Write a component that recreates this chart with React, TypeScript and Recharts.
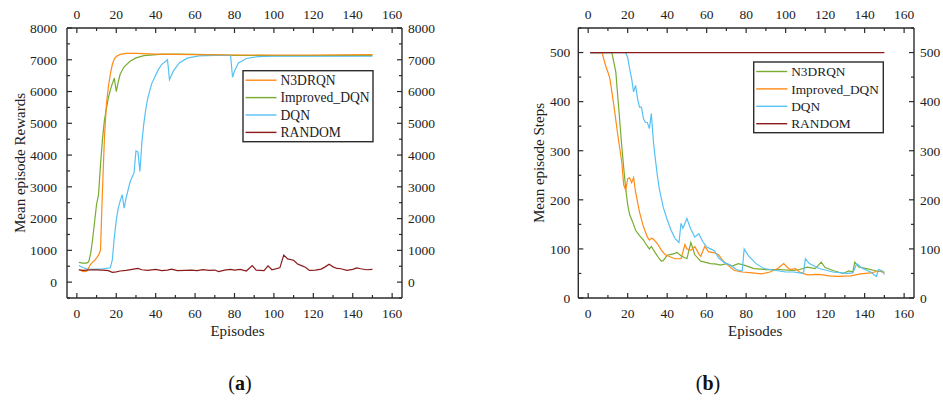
import React from 'react';
import { LineChart, Line, XAxis, YAxis } from 'recharts';

const SERIF = '"Liberation Serif", "Times New Roman", serif';
const AXIS = '#2b2b2b';

// (a) mean episode rewards
const rewN3Ep = [1, 2, 3, 4, 5, 6, 7, 8, 9, 10, 11, 12, 13, 14, 15, 16, 17, 18, 19, 20, 22, 25, 30, 40, 60, 80, 100, 120, 150];
const rewN3Val = [390, 370, 340, 330, 340, 450, 560, 630, 680, 760, 850, 1000, 2900, 4550, 5600, 6150, 6550, 6850, 7020, 7100, 7170, 7200, 7200, 7180, 7160, 7150, 7150, 7150, 7160];
const rewImpEp = [1, 3, 5, 6, 7, 8, 9, 10, 11, 12, 13, 14, 15, 16, 17, 18, 19, 20, 21, 22, 24, 27, 30, 34, 42, 50, 60, 80, 100, 120, 150];
const rewImpVal = [620, 600, 600, 640, 900, 1350, 1900, 2450, 2750, 3700, 4500, 5100, 5470, 5800, 6050, 6250, 6420, 6000, 6300, 6550, 6780, 6950, 7060, 7130, 7170, 7180, 7170, 7140, 7130, 7130, 7140];
const rewDqnEp = [1, 3, 5, 8, 10, 13, 15, 17, 18, 19, 20, 21, 22, 23, 24, 25, 26, 27, 28, 29, 30, 31, 32, 33, 34, 35, 36, 38, 41, 43, 46, 47, 49, 52, 56, 62, 70, 78, 79, 80, 82, 86, 92, 100, 150];
const rewDqnVal = [525, 460, 420, 400, 410, 420, 430, 450, 700, 1400, 1950, 2330, 2560, 2750, 2330, 2650, 2900, 3150, 3300, 3430, 4130, 4100, 3480, 4400, 5000, 5450, 5800, 6250, 6650, 6850, 7000, 6370, 6650, 6900, 7050, 7120, 7140, 7140, 6450, 6650, 6900, 7040, 7100, 7110, 7110];
const rewRndEp = [1, 3, 5, 8, 10, 13, 16, 18, 20, 22, 25, 28, 31, 33, 36, 40, 43, 46, 48, 51, 55, 58, 61, 64, 67, 70, 72, 75, 78, 80, 83, 86, 89, 91, 95, 97, 99, 103, 105, 107, 110, 112, 114, 116, 118, 121, 124, 126, 128, 130, 132, 134, 137, 140, 142, 144, 147, 150];
const rewRndVal = [390, 370, 380, 390, 385, 380, 360, 310, 320, 350, 370, 400, 430, 390, 370, 400, 360, 380, 410, 360, 370, 380, 360, 390, 370, 380, 330, 380, 400, 380, 400, 350, 520, 380, 360, 510, 390, 450, 850, 730, 690, 570, 520, 470, 370, 380, 410, 480, 560, 480, 430, 420, 370, 400, 450, 420, 390, 400];

// (b) mean episode steps
const stpN3Ep = [1, 12, 13, 14, 15, 16, 17, 18, 19, 20, 21, 22, 23, 24, 26, 28, 29, 31, 32, 34, 36, 37, 38, 40, 42, 44, 45, 47, 50, 52, 54, 57, 60, 62, 65, 67, 70, 73, 76, 79, 84, 90, 97, 104, 107, 111, 115, 118, 120, 124, 129, 132, 134, 135, 137, 141, 146, 150];
const stpN3Val = [500, 500, 480, 460, 410, 360, 310, 265, 223, 190, 170, 160, 150, 138, 127, 118, 111, 100, 105, 92, 80, 75, 76, 87, 89, 91, 93, 86, 80, 113, 88, 75, 72, 70, 69, 67, 70, 65, 70, 67, 60, 58, 58, 56, 58, 63, 60, 73, 62, 56, 50, 55, 53, 73, 63, 60, 55, 53];
const stpImpEp = [1, 7, 9, 10, 11, 12, 13, 15, 17, 18, 19, 20, 21, 22, 23, 24, 26, 28, 30, 31, 32, 33, 35, 37, 39, 42, 44, 47, 49, 50, 52, 54, 56, 57, 59, 61, 64, 66, 68, 71, 74, 78, 83, 88, 92, 96, 99, 102, 105, 107, 111, 117, 122, 126, 133, 138, 143, 147, 150];
const stpImpVal = [500, 500, 471, 460, 447, 420, 393, 332, 277, 230, 220, 243, 245, 235, 245, 216, 175, 145, 124, 118, 122, 120, 111, 98, 88, 83, 80, 80, 109, 100, 97, 105, 90, 85, 105, 94, 92, 88, 77, 66, 56, 53, 51, 49, 53, 60, 70, 58, 60, 53, 47, 48, 45, 44, 45, 49, 51, 55, 52];
const stpDqnEp = [1, 19, 20, 21, 22, 23, 24, 25, 26, 27, 28, 29, 30, 31, 32, 33, 34, 35, 36, 38, 40, 42, 44, 46, 47, 48, 50, 52, 54, 56, 58, 60, 62, 64, 66, 69, 72, 75, 78, 79, 81, 85, 89, 95, 100, 104, 109, 110, 112, 117, 124, 131, 134, 136, 139, 143, 146, 147, 149, 150];
const stpDqnVal = [500, 500, 490, 467, 447, 420, 433, 406, 389, 389, 365, 358, 357, 345, 376, 320, 284, 250, 223, 185, 160, 138, 121, 113, 152, 142, 162, 140, 124, 131, 115, 104, 100, 96, 82, 72, 67, 58, 55, 100, 87, 70, 60, 56, 53, 53, 50, 80, 70, 60, 53, 50, 51, 70, 60, 53, 44, 58, 55, 48];
const stpRndEp = [1, 150];
const stpRndVal = [500, 500];

const epTicks = [0, 10, 20, 30, 40, 50, 60, 70, 80, 90, 100, 110, 120, 130, 140, 150, 160];
const rewTicks = [-500, 0, 500, 1000, 1500, 2000, 2500, 3000, 3500, 4000, 4500, 5000, 5500, 6000, 6500, 7000, 7500, 8000];
const stpTicks = [0, 50, 100, 150, 200, 250, 300, 350, 400, 450, 500, 550];

const C_ORANGE = '#ff8a14';
const C_GREEN = '#77ac30';
const C_BLUE = '#56c1f5';
const C_RED = '#8b1a1a';

const pts = (xs: number[], ys: number[]) => xs.map((x, i) => ({ ep: x, value: ys[i] }));

type Side = 'bottom' | 'top' | 'left' | 'right';

const renderTick = (p: any, side: Side, margin: number, major: (v: number) => boolean, label: (v: number) => boolean) => {
  const { x, y, payload } = p;
  const v = payload.value;
  const maj = major(v);
  const len = maj ? 5 : 3;
  const txt = maj && label(v) ? String(v) : '';
  const style = { fontFamily: SERIF, fontSize: 13.5, fill: '#222' };
  if (side === 'bottom') {
    const ay = y - margin;
    return (
      <g>
        <line x1={x} x2={x} y1={ay} y2={ay - len} stroke={AXIS} strokeWidth={1.2} />
        {txt && <text x={x} y={y} dy="0.71em" textAnchor="middle" style={style}>{txt}</text>}
      </g>
    );
  }
  if (side === 'top') {
    const ay = y + margin;
    return (
      <g>
        <line x1={x} x2={x} y1={ay} y2={ay + len} stroke={AXIS} strokeWidth={1.2} />
        {txt && <text x={x} y={y} textAnchor="middle" style={style}>{txt}</text>}
      </g>
    );
  }
  if (side === 'left') {
    const ax = x + margin;
    return (
      <g>
        <line x1={ax} x2={ax + len} y1={y} y2={y} stroke={AXIS} strokeWidth={1.2} />
        {txt && <text x={x} y={y} dy="0.355em" textAnchor="end" style={style}>{txt}</text>}
      </g>
    );
  }
  const ax = x - margin;
  return (
    <g>
      <line x1={ax} x2={ax - len} y1={y} y2={y} stroke={AXIS} strokeWidth={1.2} />
      {txt && <text x={x} y={y} dy="0.355em" textAnchor="start" style={style}>{txt}</text>}
    </g>
  );
};

const yTitle = (text: string, gap: number) => (p: any) => {
  const vb = p.viewBox;
  const cx = vb.x + vb.width - gap;
  const cy = vb.y + vb.height / 2;
  return (
    <text x={cx} y={cy} dy="0.35em" textAnchor="middle" transform={`rotate(-90 ${cx} ${cy})`}
      style={{ fontFamily: SERIF, fontSize: 15, fill: '#222' }}>{text}</text>
  );
};

const xTitle = (text: string, dx: number) => (p: any) => {
  const vb = p.viewBox;
  return (
    <text x={vb.x + vb.width / 2 + dx} y={vb.y + 38} textAnchor="middle"
      style={{ fontFamily: SERIF, fontSize: 15, fill: '#222' }}>{text}</text>
  );
};

const isMajorEp = (v: number) => v % 20 === 0;
const axisLine = { stroke: AXIS, strokeWidth: 1.4 };

interface SeriesDef { name: string; color: string; xs: number[]; ys: number[]; z: number }

const rewardSeries: SeriesDef[] = [
  { name: 'N3DRQN', color: C_ORANGE, xs: rewN3Ep, ys: rewN3Val, z: 2 },
  { name: 'Improved_DQN', color: C_GREEN, xs: rewImpEp, ys: rewImpVal, z: 0 },
  { name: 'DQN', color: C_BLUE, xs: rewDqnEp, ys: rewDqnVal, z: 1 },
  { name: 'RANDOM', color: C_RED, xs: rewRndEp, ys: rewRndVal, z: 3 },
];

const stepSeries: SeriesDef[] = [
  { name: 'N3DRQN', color: C_GREEN, xs: stpN3Ep, ys: stpN3Val, z: 0 },
  { name: 'Improved_DQN', color: C_ORANGE, xs: stpImpEp, ys: stpImpVal, z: 1 },
  { name: 'DQN', color: C_BLUE, xs: stpDqnEp, ys: stpDqnVal, z: 2 },
  { name: 'RANDOM', color: C_RED, xs: stpRndEp, ys: stpRndVal, z: 3 },
];

interface PanelProps {
  left: number;
  width: number;
  margin: { top: number; right: number; bottom: number; left: number };
  rightAxisWidth: number;
  series: SeriesDef[];
  yDomain: [number, number];
  yTicks: number[];
  yMajor: (v: number) => boolean;
  yLabel: (v: number) => boolean;
  yTitleText: string;
  yTitleGap: number;
  xTitleDx: number;
  leftMargin: number;
}

const Panel: React.FC<PanelProps> = (props) => {
  const { left, width, margin, series, yDomain, yTicks, yMajor, yLabel } = props;
  const ordered = [...series].sort((a, b) => a.z - b.z);
  return (
    <div style={{ position: 'absolute', left, top: 0 }}>
      <LineChart width={width} height={345} margin={margin}>
        <XAxis xAxisId="bottom" dataKey="ep" type="number" domain={[-5, 165]} allowDataOverflow
          ticks={epTicks} interval={0} tickSize={0} tickMargin={10} tickLine={false} axisLine={axisLine}
          height={45} tick={(p: any) => renderTick(p, 'bottom', 10, isMajorEp, () => true)}
          label={{ value: 'Episodes', content: xTitle('Episodes', props.xTitleDx) }} />
        <XAxis xAxisId="top" orientation="top" dataKey="ep" type="number" domain={[-5, 165]} allowDataOverflow
          ticks={epTicks} interval={0} tickSize={0} tickMargin={9} tickLine={false} axisLine={axisLine}
          height={25} tick={(p: any) => renderTick(p, 'top', 9, isMajorEp, () => true)} />
        <YAxis yAxisId="left" type="number" domain={yDomain} allowDataOverflow ticks={yTicks} interval={0}
          tickSize={0} tickMargin={props.leftMargin} tickLine={false} axisLine={axisLine} width={60}
          tick={(p: any) => renderTick(p, 'left', props.leftMargin, yMajor, yLabel)}
          label={{ value: props.yTitleText, content: yTitle(props.yTitleText, props.yTitleGap) }} />
        <YAxis yAxisId="right" orientation="right" type="number" domain={yDomain} allowDataOverflow ticks={yTicks}
          interval={0} tickSize={0} tickMargin={6} tickLine={false} axisLine={axisLine} width={props.rightAxisWidth}
          tick={(p: any) => renderTick(p, 'right', 6, yMajor, yLabel)} />
        {ordered.map((s) => (
          <Line key={s.name} xAxisId="bottom" yAxisId="left" data={pts(s.xs, s.ys)} dataKey="value"
            type="linear" stroke={s.color} strokeWidth={1.2} dot={false} activeDot={false}
            isAnimationActive={false} />
        ))}
      </LineChart>
    </div>
  );
};

const LegendBox: React.FC<{ x: number; y: number; w: number; h: number; fs: number; series: SeriesDef[] }> = ({ x, y, w, h, fs, series }) => (
  <g>
    <rect x={x} y={y} width={w} height={h} fill="#fff" stroke={AXIS} strokeWidth={1.4} />
    {series.map((s, i) => {
      const ry = y + 9.5 + i * 17.4;
      return (
        <g key={s.name}>
          <line x1={x + 2.5} x2={x + 33.5} y1={ry} y2={ry} stroke={s.color} strokeWidth={1.4} />
          <text x={x + 37.5} y={ry} dy="0.35em" style={{ fontFamily: SERIF, fontSize: fs, fill: '#222' }}>{s.name}</text>
        </g>
      );
    })}
  </g>
);

export default function App() {
  return (
    <div style={{ position: 'absolute', left: 0, top: 0, width: 943, height: 400, overflow: 'hidden', background: '#fff' }}>
      <Panel left={0} width={470} margin={{ top: 3, right: 13, bottom: 2, left: 7 }} rightAxisWidth={55}
        series={rewardSeries} yDomain={[-500, 8000]} yTicks={rewTicks}
        yMajor={(v) => v % 1000 === 0} yLabel={(v) => v >= 0}
        yTitleText="Mean episode Rewards" yTitleGap={47.5} xTitleDx={3} leftMargin={10} />
      <Panel left={470} width={473} margin={{ top: 3, right: 4, bottom: 2, left: 48.3 }} rightAxisWidth={25}
        series={stepSeries} yDomain={[0, 550]} yTicks={stpTicks}
        yMajor={(v) => v % 100 === 0} yLabel={(v) => v <= 500}
        yTitleText="Mean episode Steps" yTitleGap={40} xTitleDx={9} leftMargin={8} />
      <svg width={943} height={400} style={{ position: 'absolute', left: 0, top: 0, pointerEvents: 'none' }}>
        <LegendBox x={243} y={70.7} w={130} h={71} fs={13.6} series={rewardSeries} />
        <LegendBox x={753.7} y={62} w={129.6} h={70.7} fs={13.4} series={stepSeries} />
        <text x={240} y={390} textAnchor="middle" style={{ fontFamily: SERIF, fontSize: 20, fill: '#111' }}>
          (<tspan fontWeight="bold">a</tspan>)
        </text>
        <text x={708} y={390} textAnchor="middle" style={{ fontFamily: SERIF, fontSize: 20, fill: '#111' }}>
          (<tspan fontWeight="bold">b</tspan>)
        </text>
      </svg>
    </div>
  );
}
